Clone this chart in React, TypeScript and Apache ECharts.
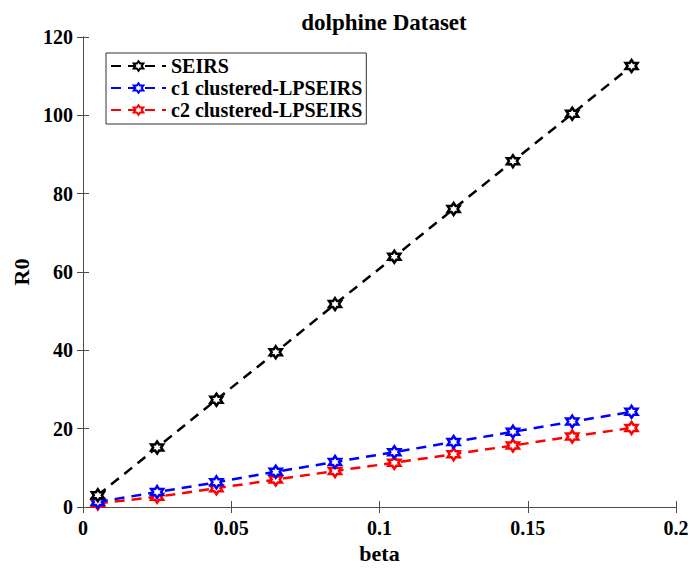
import React, { useEffect, useRef } from "react";
import * as echarts from "echarts";

const betaValues = [0.005, 0.025, 0.045, 0.065, 0.085, 0.105, 0.125, 0.145, 0.165, 0.185];
const seirs = [3.0, 15.2, 27.4, 39.5, 51.8, 63.9, 76.1, 88.3, 100.4, 112.6];
const c1Clustered = [1.3, 3.8, 6.3, 9.0, 11.5, 14.0, 16.6, 19.2, 21.8, 24.3];
const c2Clustered = [0.9, 2.6, 4.8, 7.0, 9.2, 11.3, 13.5, 15.7, 18.0, 20.2];
const seriesNames = ["SEIRS", "c1 clustered-LPSEIRS", "c2 clustered-LPSEIRS"];
const seriesColors = ["#000000", "#0000ff", "#ff0000"];

const HEX =
  "path://M0,-10L2.887,-5L8.66,-5L5.774,0L8.66,5L2.887,5L0,10L-2.887,5L-8.66,5L-5.774,0L-8.66,-5L-2.887,-5Z";

const FONT = "Liberation Serif";
const AXIS_COLOR = "#4d4d4d";

export default function App() {
  const ref = useRef<HTMLDivElement>(null);
  useEffect(() => {
    if (!ref.current) return;
    const chart = echarts.init(ref.current, undefined, { renderer: "svg" });
    const allData = [seirs, c1Clustered, c2Clustered];
    const series = allData.map((vals, i) => ({
      name: seriesNames[i],
      type: "line",
      data: betaValues.map((b, j) => [b, vals[j]]),
      symbol: HEX,
      symbolSize: 12,
      showSymbol: true,
      color: seriesColors[i],
      lineStyle: { color: seriesColors[i], width: 2.5, type: [10, 7] },
      itemStyle: { color: "#ffffff", borderColor: seriesColors[i], borderWidth: 2.5 },
      z: 10 - i,
    }));
    const axisCommon = {
      axisLine: { show: true, lineStyle: { color: AXIS_COLOR, width: 1 } },
      axisTick: { show: true, inside: true, length: 6, lineStyle: { color: AXIS_COLOR } },
      splitLine: { show: false },
    };
    chart.setOption({
      animation: false,
      backgroundColor: "#ffffff",
      title: {
        text: "dolphine Dataset",
        left: 379,
        top: 6,
        textAlign: "center",
        textStyle: { fontFamily: FONT, fontWeight: "bold", fontSize: 23, color: "#000" },
      },
      legend: {
        orient: "vertical",
        left: 106,
        top: 53,
        data: seriesNames,
        backgroundColor: "#fff",
        borderColor: "#333",
        borderWidth: 1,
        padding: [3, 4, 4, 4],
        itemGap: 2,
        itemWidth: 55,
        itemHeight: 12,
        textStyle: { fontFamily: FONT, fontWeight: "bold", fontSize: 20, color: "#000" },
      },
      grid: {
        left: 83,
        right: 15,
        top: 37,
        bottom: 62,
        containLabel: false,
        outerBoundsMode: "none",
      },
      xAxis: [
        {
          type: "value",
          min: 0,
          max: 0.2,
          interval: 0.05,
          name: "beta",
          nameLocation: "middle",
          nameGap: 31,
          nameTextStyle: { fontFamily: FONT, fontWeight: "bold", fontSize: 22, color: "#000" },
          axisLabel: { fontFamily: FONT, fontWeight: "bold", fontSize: 20, color: "#000", margin: 11 },
          ...axisCommon,
        },
        {
          type: "value",
          position: "top",
          min: 0,
          max: 0.2,
          interval: 0.05,
          axisLabel: { show: false },
          ...axisCommon,
        },
      ],
      yAxis: [
        {
          type: "value",
          min: 0,
          max: 120,
          interval: 20,
          name: "R0",
          nameLocation: "middle",
          nameGap: 50,
          nameTextStyle: { fontFamily: FONT, fontWeight: "bold", fontSize: 22, color: "#000" },
          axisLabel: { fontFamily: FONT, fontWeight: "bold", fontSize: 20, color: "#000", margin: 10 },
          ...axisCommon,
        },
        {
          type: "value",
          position: "right",
          min: 0,
          max: 120,
          interval: 20,
          axisLabel: { show: false },
          ...axisCommon,
        },
      ],
      series,
    });
    return () => chart.dispose();
  }, []);
  return (
    <div
      ref={ref}
      style={{ position: "fixed", left: 0, top: 0, width: 691, height: 569, background: "#fff" }}
    />
  );
}
